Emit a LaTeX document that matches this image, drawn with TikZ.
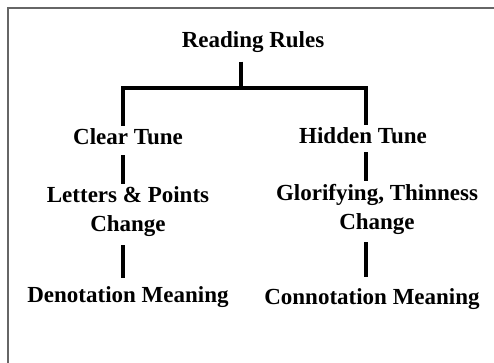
\documentclass[tikz,border=0pt]{standalone}
\usepackage{fontspec}
\setmainfont{Liberation Serif}
\usetikzlibrary{positioning}
\tikzset{
  rule/.style={font=\bfseries\fontsize{23}{29}\selectfont,align=center,inner sep=0pt,outer sep=3pt},
  link/.style={line width=3.2pt}
}

\begin{document}
\begin{tikzpicture}[x=1pt,y=-1pt]
\useasboundingbox (0,0) rectangle (494,363);
\draw[black!60,line width=2pt] (8,363) -- (8,8) -- (494,8);
% columns of the tree
\coordinate (lcol) at (123,0);
\coordinate (rcol) at (366,0);
\coordinate (fork) at (241,88);
\node[rule] (root) at (253,42) {Reading Rules};
\node[rule] (clear) at (128,137) {Clear Tune};
\node[rule] (hidden) at (363,136) {Hidden Tune};
\node[rule] (letters) at (128,212) {Letters \& Points\\Change};
\node[rule] (glory) at (377,209) {Glorifying, Thinness\\Change};
\node[rule] (denot) at (128,297) {Denotation Meaning};
\node[rule] (connot) at (372,299) {Connotation Meaning};
\draw[link,shorten <=6pt] (root.south -| fork) -- (fork);
\draw[link] (fork) -| (clear.north -| lcol);
\draw[link] (fork) -| (hidden.north -| rcol);
\draw[link,shorten <=7pt] (clear.south -| lcol) -- (letters.north -| lcol);
\draw[link,shorten <=5pt] (hidden.south -| rcol) -- (glory.north -| rcol);
\draw[link,shorten <=5pt,shorten >=5pt] (letters.south -| lcol) -- (denot.north -| lcol);
\draw[link,shorten <=5pt,shorten >=8pt] (glory.south -| rcol) -- (connot.north -| rcol);
\end{tikzpicture}
\end{document}
